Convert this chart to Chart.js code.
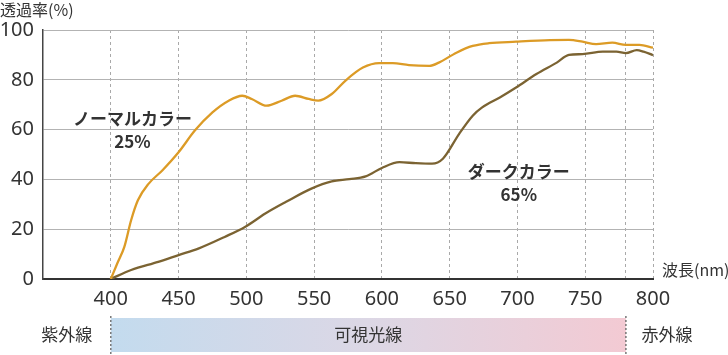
<!DOCTYPE html>
<html>
<head>
<meta charset="utf-8">
<script src="https://cdn.jsdelivr.net/npm/chart.js@4/dist/chart.umd.min.js"></script>
<style>
html,body{margin:0;padding:0;background:#fff;}
#wrap{width:728px;height:355px;position:relative;}
</style>
</head>
<body>
<div id="wrap"><canvas id="c" width="728" height="355"></canvas></div>
<script>
// ---- data ----
const xTickValues = [400, 450, 500, 550, 600, 650, 700, 750, 780, 800];
const yTickValues = [0, 20, 40, 60, 80, 100];

const normalWavelength = [400, 405, 410, 415, 420, 428, 438, 450, 462, 475, 487, 497, 504, 515, 526, 536, 546, 553, 563, 573, 586, 598, 608, 620, 635, 642, 655, 667, 679, 699, 724, 738, 748, 758, 770, 780, 790, 800];
const normalTransmittance = [0, 6.5, 12.9, 23.6, 31.6, 38.3, 43.6, 50.9, 59.6, 66.9, 71.6, 73.6, 72.3, 69.6, 71.6, 73.6, 72.3, 71.6, 74.3, 79.6, 84.9, 86.7, 86.7, 85.9, 85.6, 86.9, 90.9, 93.6, 94.7, 95.3, 95.9, 96, 95.3, 94.3, 94.9, 94, 94, 92.9];

const darkWavelength = [400, 415, 435, 450, 465, 484, 499, 514, 529, 548, 563, 576, 588, 600, 613, 625, 637, 645, 657, 667, 674, 687, 699, 714, 729, 738, 748, 763, 773, 780, 788, 793, 800];
const darkTransmittance = [0, 3.6, 6.9, 9.6, 12.3, 16.9, 20.9, 26.3, 30.9, 36.3, 39.2, 40.1, 41.2, 44.6, 46.9, 46.5, 46.3, 48.3, 58.3, 65.6, 68.9, 72.9, 76.9, 82.3, 86.9, 90, 90.3, 91.3, 91.3, 90.7, 91.9, 91.3, 89.9];

const seriesNames = ['ノーマルカラー', 'ダークカラー'];
const seriesRates = ['25%', '65%'];
const yTitle = '透過率(%)';
const xTitle = '波長(nm)';
const bandLabels = ['紫外線', '可視光線', '赤外線'];
const visibleRange = [400, 780];

// ---- chart ----
const JP = '"Noto Sans CJK JP", "Noto Sans", sans-serif';
const NUM = '"Noto Sans", "Noto Sans CJK JP", sans-serif';
const textColor = '#333';

function toPoints(xs, ys){ return xs.map((x,i)=>({x:x, y:ys[i]})); }

const labelPlacements = [
  {series:0, x:416, y:64.5},
  {series:1, x:701, y:43.2}
];

const extrasPlugin = {
  id: 'extras',
  afterDraw(chart){
    const ctx = chart.ctx;
    const xs = chart.scales.x, ys = chart.scales.y;
    const area = chart.chartArea;
    ctx.save();
    // axis titles
    ctx.fillStyle = textColor;
    ctx.font = '16px ' + JP;
    ctx.textAlign = 'left';
    ctx.textBaseline = 'middle';
    ctx.fillText(yTitle, 0, 10);
    ctx.fillText(xTitle, area.right + 9, area.bottom - 9);

    // series labels
    ctx.font = 'bold 17px ' + JP;
    ctx.textAlign = 'center';
    labelPlacements.forEach(p=>{
      const px = xs.getPixelForValue(p.x);
      const py = ys.getPixelForValue(p.y);
      ctx.fillText(seriesNames[p.series], px, py);
      ctx.fillText(seriesRates[p.series], px, py + 23);
    });

    // visible light band
    const bx0 = xs.getPixelForValue(visibleRange[0]);
    const bx1 = xs.getPixelForValue(visibleRange[1]);
    const by0 = 318, by1 = 352;
    const g = ctx.createLinearGradient(bx0, 0, bx1, 0);
    g.addColorStop(0, '#c3dbee');
    g.addColorStop(0.5, '#dcd7e5');
    g.addColorStop(1, '#f3cad3');
    ctx.fillStyle = g;
    ctx.fillRect(bx0, by0, bx1 - bx0, by1 - by0);
    ctx.strokeStyle = '#777';
    ctx.lineWidth = 1.5;
    ctx.setLineDash([2, 2]);
    [bx0, bx1].forEach(bx=>{
      ctx.beginPath();
      ctx.moveTo(bx, by0 - 2);
      ctx.lineTo(bx, by1 + 2);
      ctx.stroke();
    });
    ctx.setLineDash([]);
    ctx.fillStyle = textColor;
    ctx.font = '17px ' + JP;
    ctx.textAlign = 'center';
    const bym = (by0 + by1) / 2;
    ctx.fillText(bandLabels[0], bx0 - 44, bym);
    ctx.fillText(bandLabels[1], (bx0 + bx1) / 2, bym);
    ctx.fillText(bandLabels[2], bx1 + 41, bym);
    ctx.restore();
  }
};

new Chart(document.getElementById('c'), {
  type: 'line',
  data: {
    datasets: [
      {
        label: seriesNames[0],
        data: toPoints(normalWavelength, normalTransmittance),
        borderColor: '#dc9b26',
        borderWidth: 2.3,
        pointRadius: 0,
        cubicInterpolationMode: 'monotone',
        fill: false
      },
      {
        label: seriesNames[1],
        data: toPoints(darkWavelength, darkTransmittance),
        borderColor: '#7b6332',
        borderWidth: 2.3,
        pointRadius: 0,
        cubicInterpolationMode: 'monotone',
        fill: false
      }
    ]
  },
  options: {
    responsive: false,
    animation: false,
    devicePixelRatio: 1,
    layout: { padding: { top: 30, right: 75, left: 0, bottom: 0 } },
    plugins: { legend: { display: false }, tooltip: { enabled: false }, title: { display: false } },
    scales: {
      x: {
        type: 'linear',
        min: 350,
        max: 800,
        afterBuildTicks(scale){ scale.ticks = xTickValues.map(v=>({value:v})); },
        afterFit(scale){ scale.height = 76; },
        ticks: {
          autoSkip: false,
          maxRotation: 0,
          padding: 8,
          color: textColor,
          font: { family: NUM, size: 20 },
          callback: v => (v === 780 ? '' : String(v))
        },
        grid: {
          color: '#a9a9a9',
          lineWidth: 1,
          drawTicks: false
        },
        border: { color: '#333', width: 2, dash: [3, 3] }
      },
      y: {
        min: 0,
        max: 100,
        afterBuildTicks(scale){ scale.ticks = yTickValues.map(v=>({value:v})); },
        afterFit(scale){ scale.width = 43; },
        ticks: {
          padding: 9,
          color: textColor,
          font: { family: NUM, size: 20 }
        },
        grid: {
          color: c => (c.tick && c.tick.value === 0 ? 'rgba(0,0,0,0)' : '#b3b3b3'),
          lineWidth: 1,
          drawTicks: false
        },
        border: { color: '#444', width: 1.5 }
      }
    }
  },
  plugins: [extrasPlugin]
});
</script>
</body>
</html>
